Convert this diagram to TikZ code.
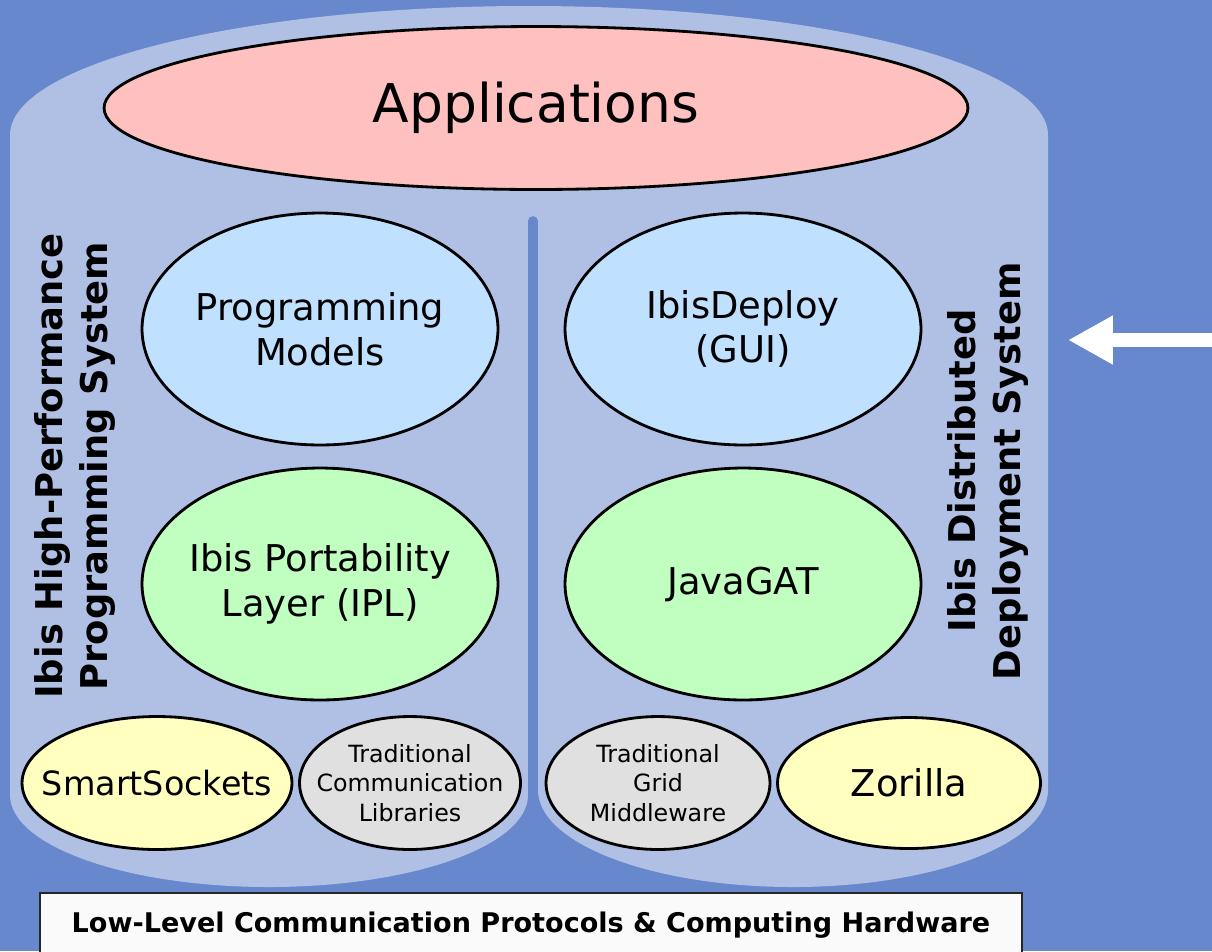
\documentclass[tikz,border=0pt]{standalone}
\usepackage{fontspec}
\setmainfont{DejaVu Sans}
\usetikzlibrary{shapes.geometric,arrows.meta}
\definecolor{bgblue}{RGB}{103,136,204}
\definecolor{cylblue}{RGB}{176,192,229}
\definecolor{apppink}{RGB}{255,192,192}
\definecolor{modelblue}{RGB}{192,224,255}
\definecolor{layergreen}{RGB}{192,255,192}
\definecolor{baseyellow}{RGB}{255,255,192}
\definecolor{tradgray}{RGB}{224,224,224}
\definecolor{boxwhite}{RGB}{250,250,250}

\begin{document}
\begin{tikzpicture}[x=0.02cm, y=-0.02cm,
	blob/.style={ellipse, draw=black, line width=1.6pt, inner xsep=-2cm, inner ysep=0pt, align=center},
	midblob/.style={blob, minimum width=7.12cm, minimum height=4.64cm, font=\fontsize{21}{25.5}\selectfont},
	lowblob/.style={blob, minimum height=2.66cm},
	smalltext/.style={font=\fontsize{13.5}{16.8}\selectfont},
	sidelabel/.style={rotate=90, align=center, font=\bfseries\fontsize{21}{26}\selectfont}]

% Background
\fill[bgblue] (0,0) rectangle (1212,951);
\useasboundingbox (0,0) rectangle (1212,951);

% Cylinder with its two halves
\fill[cylblue] (10,135) arc[start angle=180, end angle=360, x radius=519, y radius=129]
	-- (1048,790) arc[start angle=0, end angle=180, x radius=255, y radius=97]
	-- (528,795) arc[start angle=0, end angle=180, x radius=259, y radius=92] -- cycle;
\coordinate (divtop) at (533,221);
\coordinate (divbottom) at (533,960);
\draw[bgblue, line width=5.5pt, line cap=round] (divtop) -- (divbottom);

% Top layer
\node[blob, fill=apppink, minimum width=17.28cm, minimum height=3.26cm, font=\fontsize{30.4}{36}\selectfont] (apps) at (536,108) {Applications};

% Middle layers
\node[midblob, fill=modelblue] (progmodels) at (320,329) {Programming\\Models};
\node[midblob, fill=modelblue] (ibisdeploy) at (743,329) {IbisDeploy\\(GUI)};
\node[midblob, fill=layergreen] (ipl) at (320,584) {Ibis Portability\\Layer (IPL)};
\node[midblob, fill=layergreen] (javagat) at (743,584) {JavaGAT};

% Bottom layer
\node[lowblob, fill=baseyellow, minimum width=5.4cm, font=\fontsize{19}{23}\selectfont] (smartsockets) at (157,783) {SmartSockets};
\node[lowblob, fill=tradgray, minimum width=4.42cm, smalltext] (tradcomm) at (410,783) {Traditional\\Communication\\Libraries};
\node[lowblob, fill=tradgray, minimum width=4.48cm, smalltext] (tradgrid) at (658,783) {Traditional\\Grid\\Middleware};
\node[lowblob, fill=baseyellow, minimum width=5.26cm, minimum height=2.62cm, font=\fontsize{21}{25}\selectfont] (zorilla) at (909,783) {Zorilla};

% Side labels
\node[sidelabel] (hpslabel) at (75,466) {Ibis High-Performance\\Programming System};
\node[sidelabel] (deploylabel) at (988,471) {Ibis Distributed\\Deployment System};

% Hardware
\node[draw=black!85, line width=0.9pt, fill=boxwhite, minimum width=19.64cm, minimum height=1.28cm, inner sep=0pt, font=\bfseries\fontsize{15.4}{18}\selectfont] (hardware) at (531,925) {Low-Level Communication Protocols \& Computing Hardware};

% Arrow
\coordinate (arrowstart) at (1216,340);
\coordinate (arrowtip) at (1068,340);
\draw[white, line width=8.5pt, -{Triangle[length=25.5pt, width=26pt]}] (arrowstart) -- (arrowtip);
\end{tikzpicture}
\end{document}
